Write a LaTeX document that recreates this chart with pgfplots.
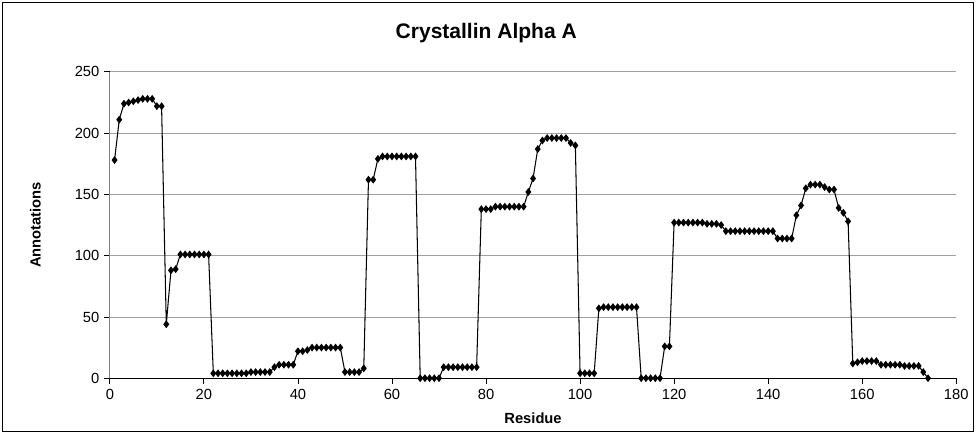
\documentclass[border=0pt]{standalone}
\usepackage{pgfplots}
\pgfplotsset{compat=1.18}
\usepackage{fontspec}
\setmainfont{Liberation Sans}
\begin{document}
\begin{tikzpicture}
\begin{axis}[
    name=ax,
    scale only axis,
    width=604pt, height=218.6pt,
    xmin=0, xmax=180, ymin=0, ymax=250,
    xtick={0,20,...,180}, ytick={0,50,...,250},
    axis x line*=bottom, axis y line*=left,
    x axis line style={black, line width=0.7pt},
    y axis line style={gray, line width=0.7pt},
    tick align=outside, major tick length=4pt,
    tick style={black, line width=0.6pt},
    ymajorgrids, major grid style={gray!75, line width=0.6pt},
    /pgf/number format/assume math mode=true,
    tick label style={font=\fontsize{10.5}{12}\selectfont},
    xlabel={Residue}, ylabel={Annotations},
    xlabel style={font=\fontsize{10.5}{12}\selectfont\bfseries, at={(axis description cs:0.5,-0.131)}, anchor=center},
    ylabel style={font=\fontsize{10.5}{12}\selectfont\bfseries, at={(axis description cs:-0.088,0.5)}, anchor=center},
]
\addplot[black, line width=0.75pt, mark=diamond*, mark size=2.2pt, mark options={black}] coordinates {
(1,178) (2,211) (3,224) (4,225) (5,226) (6,227) (7,228) (8,228) (9,228) (10,222)
(11,222) (12,44) (13,88) (14,89) (15,101) (16,101) (17,101) (18,101) (19,101) (20,101)
(21,101) (22,4) (23,4) (24,4) (25,4) (26,4) (27,4) (28,4) (29,4) (30,5)
(31,5) (32,5) (33,5) (34,5) (35,9) (36,11) (37,11) (38,11) (39,11) (40,22)
(41,22) (42,23) (43,25) (44,25) (45,25) (46,25) (47,25) (48,25) (49,25) (50,5)
(51,5) (52,5) (53,5) (54,8) (55,162) (56,162) (57,179) (58,181) (59,181) (60,181)
(61,181) (62,181) (63,181) (64,181) (65,181) (66,0) (67,0) (68,0) (69,0) (70,0)
(71,9) (72,9) (73,9) (74,9) (75,9) (76,9) (77,9) (78,9) (79,138) (80,138)
(81,138) (82,140) (83,140) (84,140) (85,140) (86,140) (87,140) (88,140) (89,152) (90,163)
(91,187) (92,194) (93,196) (94,196) (95,196) (96,196) (97,196) (98,192) (99,190) (100,4)
(101,4) (102,4) (103,4) (104,57) (105,58) (106,58) (107,58) (108,58) (109,58) (110,58)
(111,58) (112,58) (113,0) (114,0) (115,0) (116,0) (117,0) (118,26) (119,26) (120,127)
(121,127) (122,127) (123,127) (124,127) (125,127) (126,127) (127,126) (128,126) (129,126) (130,125)
(131,120) (132,120) (133,120) (134,120) (135,120) (136,120) (137,120) (138,120) (139,120) (140,120)
(141,120) (142,114) (143,114) (144,114) (145,114) (146,133) (147,141) (148,155) (149,158) (150,158)
(151,158) (152,156) (153,154) (154,154) (155,139) (156,135) (157,128) (158,12) (159,13) (160,14)
(161,14) (162,14) (163,14) (164,11) (165,11) (166,11) (167,11) (168,11) (169,10) (170,10)
(171,10) (172,10) (173,5) (174,0)
};
\end{axis}
\node[font=\fontsize{15}{17}\selectfont\bfseries] at ([xshift=268.6pt,yshift=27.9pt]ax.north west) {Crystallin Alpha A};
\draw[black, line width=0.8pt] ([xshift=-76.4pt,yshift=-37.9pt]ax.south west) rectangle ([xshift=12.1pt,yshift=49.3pt]ax.north east);
\path ([xshift=-78.4pt,yshift=-39.3pt]ax.south west) rectangle ([xshift=14.1pt,yshift=51.3pt]ax.north east);
\end{tikzpicture}
\end{document}
